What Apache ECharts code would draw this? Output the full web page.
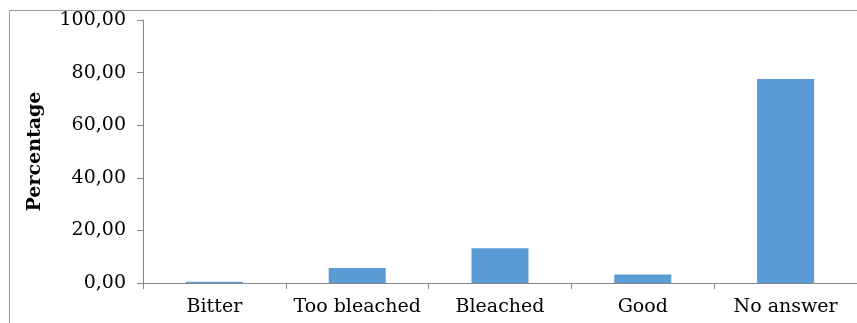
<!DOCTYPE html>
<html><head><meta charset="utf-8">
<script src="https://cdn.jsdelivr.net/npm/echarts@6/dist/echarts.min.js"></script>
<style>html,body{margin:0;padding:0;background:#fff}#c{width:857px;height:323px}</style>
</head><body><div id="c"></div>
<script>
const categories = ["Bitter", "Too bleached", "Bleached", "Good", "No answer"];
const values = [0.5, 5.7, 13.2, 3.2, 77.6];
const yTicks = [0, 20, 40, 60, 80, 100];
const yAxisTitle = "Percentage";

const chart = echarts.init(document.getElementById('c'), null, {renderer: 'canvas'});
const font = "DejaVu Serif";
chart.setOption({
  animation: false,
  graphic: [{
    type: 'rect', left: 7, top: 8, silent: true,
    shape: {width: 900, height: 400},
    style: {fill: 'none', stroke: '#9a9a9a', lineWidth: 1}
  }],
  grid: {left: 143, top: 20, width: 715, height: 263},
  xAxis: {
    type: 'category', data: categories,
    axisLine: {lineStyle: {color: '#868686', width: 1}},
    axisTick: {show: true, interval: 0, alignWithLabel: false, length: 6, lineStyle: {color: '#868686'}},
    axisLabel: {interval: 0, color: '#000', fontFamily: font, fontSize: 19, margin: 15}
  },
  yAxis: {
    type: 'value', min: yTicks[0], max: yTicks[yTicks.length - 1], interval: 20,
    name: yAxisTitle, nameLocation: 'middle', nameGap: 98, nameRotate: 90,
    nameTextStyle: {fontFamily: font, fontWeight: 'bold', fontSize: 19, color: '#000'},
    axisLine: {show: true, lineStyle: {color: '#868686', width: 1}},
    axisTick: {show: true, length: 6, lineStyle: {color: '#868686'}},
    splitLine: {show: false},
    axisLabel: {color: '#000', fontFamily: font, fontSize: 19, margin: 17,
      formatter: v => v.toFixed(2).replace('.', ',')}
  },
  series: [{
    type: 'bar', data: values, barWidth: 57,
    itemStyle: {color: '#5b9bd5'}
  }]
});
</script></body></html>
